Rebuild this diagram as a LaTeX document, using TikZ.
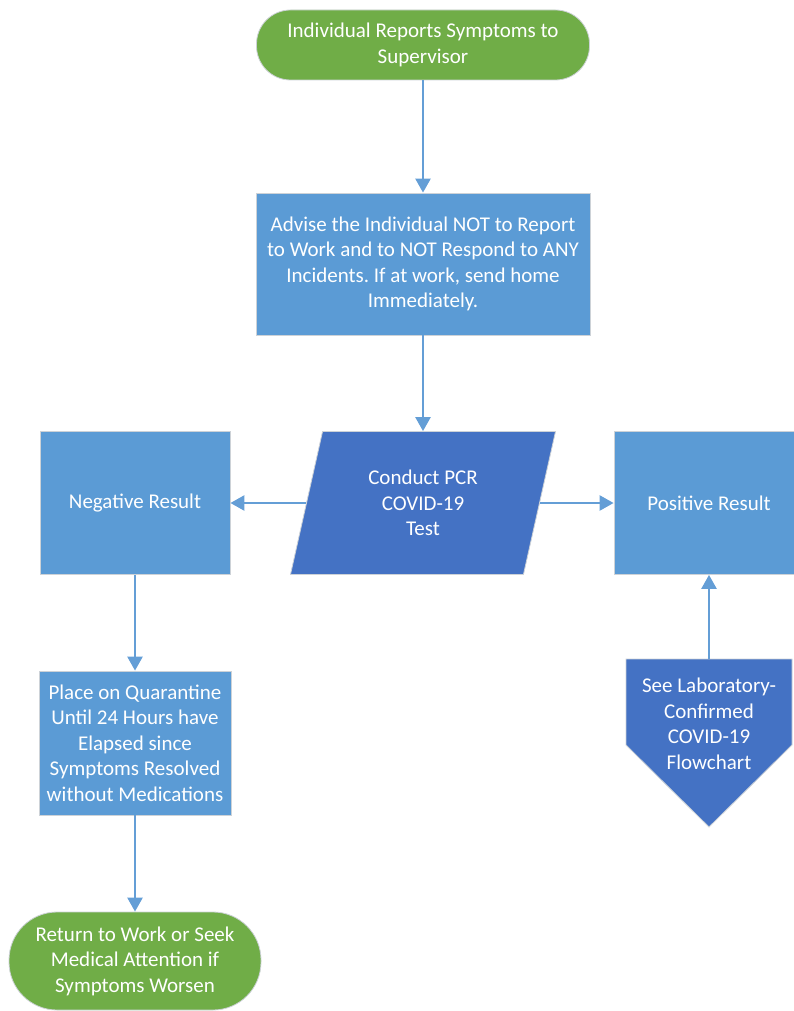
\documentclass[tikz,border=0pt]{standalone}
\usepackage{fontspec}
\setmainfont{Carlito}
\frenchspacing
\usetikzlibrary{shapes.geometric, arrows.meta, positioning}
\definecolor{termgreen}{RGB}{112, 173, 71}
\definecolor{procblue}{RGB}{91, 155, 213}
\definecolor{iodark}{RGB}{68, 114, 196}
\definecolor{linkblue}{RGB}{100, 158, 214}
\definecolor{edgegray}{RGB}{205, 210, 215}

\begin{document}
\begin{tikzpicture}[x=1pt, y=1pt,
    label text/.style={text=white, font=\fontsize{21}{25.5}\selectfont,
                       align=center, inner sep=0pt},
    term/.style={label text, rectangle, rounded corners=#1, fill=termgreen,
                 draw=edgegray, line width=0.8pt},
    proc/.style={label text, rectangle, fill=procblue, draw=edgegray,
                 line width=0.8pt},
    io/.style={label text, trapezium, trapezium left angle=64,
               trapezium right angle=116, trapezium stretches body,
               fill=iodark, draw=edgegray, line width=0.8pt},
    offpage/.style={fill=iodark, draw=edgegray, line width=0.8pt},
    arr/.style={draw=linkblue, line width=2.5pt,
                -{Triangle[width=15pt, length=14pt]}},
]
\useasboundingbox (0,0) rectangle (794,-1011);
\clip (0,0) rectangle (794,-1011);

\node[term=34pt, minimum width=333, minimum height=70] (report) at (423,-45)
    {Individual Reports Symptoms to\\Supervisor};
\node[proc, minimum width=334, minimum height=142] (advise) at (423,-264)
    {Advise the Individual NOT to Report\\to Work and to NOT Respond to ANY\\Incidents. If at work, send home\\Immediately.};
\node[io, minimum width=265, minimum height=143] (pcrtest) at (423,-503)
    {Conduct PCR\\COVID-19\\Test};
\node[proc, minimum width=190, minimum height=143] (negative) at (135,-503)
    {Negative Result};
\node[proc, minimum width=190, minimum height=143] (positive) at (709,-503)
    {Positive Result};
\node[proc, minimum width=192, minimum height=144] (quarantine) at (135,-743)
    {Place on Quarantine\\Until 24 Hours have\\Elapsed since\\Symptoms Resolved\\without Medications};
\node[term=48pt, minimum width=252, minimum height=98] (returnwork) at (135,-961)
    {Return to Work or Seek\\Medical Attention if\\Symptoms Worsen};

% off-page connector
\draw[offpage] (626,-659) -- (792,-659) -- (792,-745) -- (709,-827)
    -- (626,-745) -- cycle;
\coordinate (labtop) at (709,-659);
\node[label text] (labchart) at (709,-724)
    {See Laboratory-\\Confirmed\\COVID-19\\Flowchart};

% connectors
\draw[arr] (report) -- (advise);
\draw[arr] (advise) -- (pcrtest);
\draw[arr] (pcrtest.left side) -- (negative);
\draw[arr] (pcrtest.right side) -- (positive);
\draw[arr] (negative) -- (quarantine);
\draw[arr] (quarantine) -- (returnwork);
\draw[arr] (labtop) -- (positive);

\end{tikzpicture}
\end{document}
